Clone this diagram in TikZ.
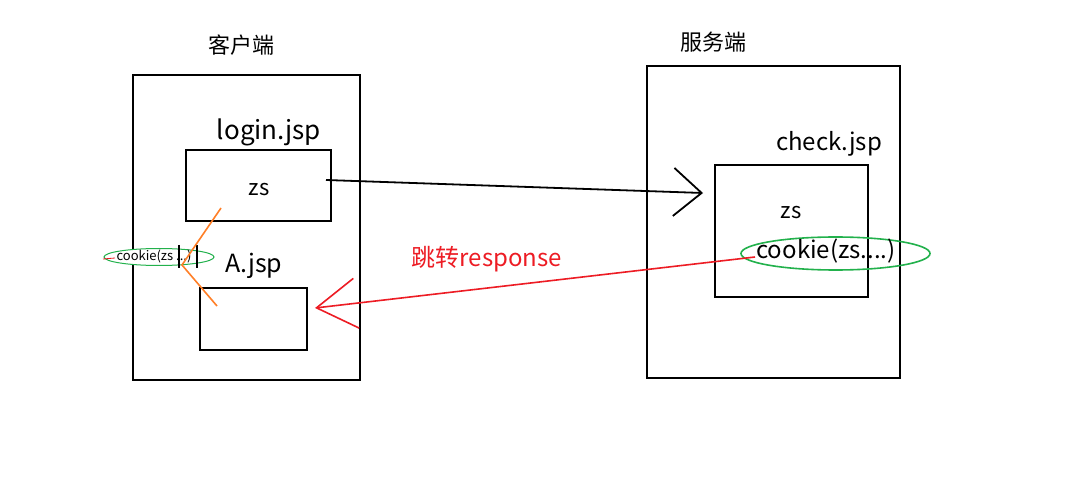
\documentclass[tikz,border=0pt]{standalone}
\usepackage{fontspec}
\setmainfont{Noto Sans CJK SC}
\usetikzlibrary{arrows.meta,shapes.geometric}
\definecolor{myred}{RGB}{237,28,36}
\definecolor{mygreen}{RGB}{34,177,76}
\definecolor{myorange}{RGB}{255,127,39}
\newcommand{\fs}[1]{\fontsize{#1}{#1}\selectfont}
\begin{document}
\begin{tikzpicture}[x=1pt,y=-1pt,
  box/.style={draw=black,line width=2pt,minimum width=#1,inner sep=0pt},
  lbl/.style={inner sep=0pt,anchor=center},
  oval/.style={draw=mygreen,line width=1.6pt,ellipse,inner sep=0pt}]
\useasboundingbox[fill=white] (0,0) rectangle (1074,481);
% client
\node[lbl] (ctitle) at (241,45) {\fs{22}客户端};
\node[box=227pt,minimum height=305pt] (client) at (246.5,227.5) {};
\node[lbl] (logintxt) at (269,132) {\fs{26}login.jsp};
\node[box=145pt,minimum height=71pt] (login) at (258.5,185.5) {};
\node[lbl] (zs1) at (259,190) {\fs{22}zs};
\node[lbl] (atxt) at (254,266) {\fs{25}A.jsp};
\node[box=107pt,minimum height=62pt] (abox) at (253.5,319) {};
% small cookie
\node[oval,line width=1pt,minimum width=110pt,minimum height=17pt,fill=white] (smalloval) at (159,257) {};
\node[lbl] (smalltxt) at (154,256) {\fs{13}cookie(zs\hspace{3pt}...)};
\draw[line width=1.2pt] (179,245) -- (179,268);
\draw[line width=1.2pt] (197,245) -- (197,268);
\draw[myred,line width=0.8pt] (103,259) -- (115,258);
% orange
\coordinate (o1) at (221,208);
\coordinate (o2) at (182,265);
\coordinate (o3) at (217,306);
\draw[myorange,line width=1.6pt] (o1) -- (o2) -- (o3);
% server
\node[lbl] (stitle) at (713,42) {\fs{22}服务端};
\node[box=253pt,minimum height=312pt] (server) at (773.5,222) {};
\node[lbl] (checktxt) at (829,144) {\fs{24}check.jsp};
\node[box=153pt,minimum height=132pt] (check) at (791.5,231) {};
\node[lbl] (zs2) at (791,213) {\fs{22}zs};
\node[oval,minimum width=189pt,minimum height=33pt] (bigoval) at (835.5,253.5) {};
\node[lbl] (cookietxt) at (826,251) {\fs{24}cookie(zs....)};
% arrows
\coordinate (s1) at (326,180);
\coordinate (e1) at (703,193);
\draw[line width=1.8pt,-{Straight Barb[length=28pt,width=48pt,line width=1.8pt]}] (s1) -- (e1);
\coordinate (s2) at (755,257);
\coordinate (e2) at (315,308);
\draw[myred,line width=1.6pt,-{Straight Barb[length=40pt,width=50pt,line width=1.6pt]}] (s2) -- (e2);
\node[lbl,text=myred] (resp) at (487,259) {\fs{24}跳转response};
\end{tikzpicture}
\end{document}
